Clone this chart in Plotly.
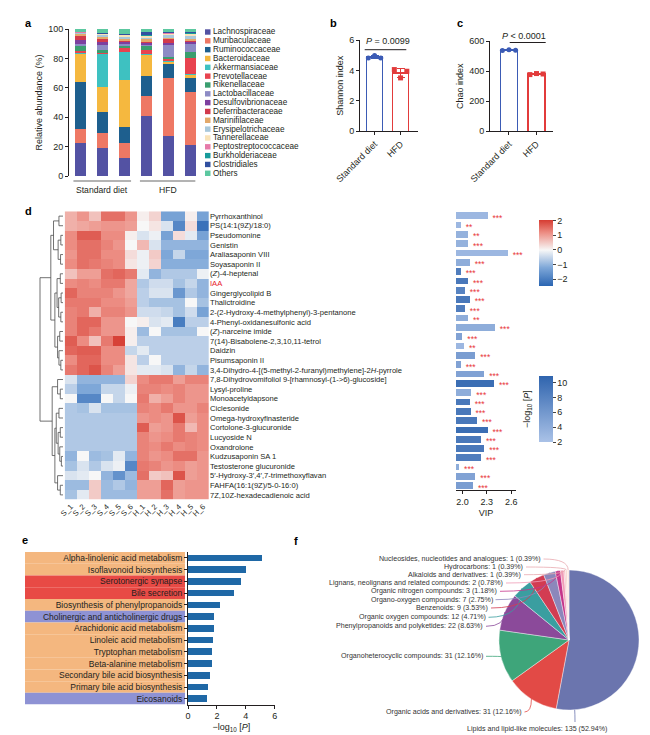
import plotly.graph_objects as go
import math

W, H = 650, 735
def PX(x): return x / W
def PY(y): return 1 - y / H
FONT = "Liberation Sans, Arial, Helvetica, sans-serif"
TXT = "#231f20"

# ---------------- panel a data ----------------
a_samples = ["S1", "S2", "S3", "H1", "H2", "H3"]
a_groups = ["Standard diet", "HFD"]
families = ["Lachnospiraceae", "Muribaculaceae", "Ruminococcaceae", "Bacteroidaceae",
            "Akkermansiaceae", "Prevotellaceae", "Rikenellaceae", "Lactobacillaceae",
            "Desulfovibrionaceae", "Deferribacteraceae", "Marinifilaceae", "Erysipelotrichaceae",
            "Tannerellaceae", "Peptostreptococcaceae", "Burkholderiaceae", "Clostridiales", "Others"]
abundance = [
    [22.6, 19.2, 12.0, 40.6, 27.5, 21.0],
    [9.7, 10.1, 10.6, 13.6, 39.1, 35.9],
    [31.6, 14.3, 10.6, 13.5, 10.1, 9.7],
    [18.9, 16.7, 32.3, 14.7, 1.2, 2.2],
    [1.5, 23.2, 18.7, 0.3, 0.3, 0.3],
    [0.5, 0.5, 3.5, 3.0, 2.0, 11.3],
    [4.0, 2.0, 1.0, 3.0, 1.0, 3.8],
    [1.0, 3.0, 1.3, 1.0, 8.0, 6.0],
    [3.0, 2.5, 1.5, 1.3, 1.0, 1.2],
    [3.0, 2.0, 1.0, 0.5, 3.0, 1.0],
    [1.0, 1.0, 1.0, 2.0, 1.0, 1.0],
    [0.5, 1.5, 1.5, 1.0, 2.0, 2.5],
    [0.5, 0.8, 1.0, 1.0, 0.8, 1.0],
    [0.2, 0.2, 0.3, 0.3, 0.3, 0.3],
    [0.1, 0.2, 0.2, 0.2, 0.3, 0.3],
    [0.2, 0.3, 0.3, 1.8, 0.4, 0.8],
    [1.7, 2.5, 3.2, 2.2, 2.0, 1.7],
]
fam_colors = ["#5352a3", "#ee7864", "#1e5f8e", "#f5b83f", "#3ec1c1", "#e8434f", "#3a9e6f",
              "#8d8bc5", "#7d3f9f", "#d23a4c", "#e3a96a", "#a9c8db", "#f9e3b8", "#e67aa9",
              "#179b9b", "#3150a0", "#5cc8a0"]

# ---------------- panel b / c data ----------------
bc_groups = ["Standard diet", "HFD"]
shannon_sd = [4.84, 5.00, 4.84]
shannon_hfd = [4.07, 3.52, 3.96]
chao_sd = [538, 543, 540]
chao_hfd = [378, 385, 382]

# ---------------- panel d data ----------------
hm_columns = ["S_1", "S_2", "S_3", "S_4", "S_5", "S_6", "H_1", "H_2", "H_3", "H_4", "H_5", "H_6"]
metabolites = ["Pyrrhoxanthinol", "PS(14:1(9Z)/18:0)", "Pseudomonine", "Genistin", "Araliasaponin VIII",
               "Soyasaponin II", "(<i>Z</i>)-4-heptenal", "IAA", "Gingerglycolipid B", "Thalictroidine",
               "2-(2-Hydroxy-4-methylphenyl)-3-pentanone", "4-Phenyl-oxidanesulfonic acid",
               "(<i>Z</i>)-narceine imide", "7(14)-Bisabolene-2,3,10,11-tetrol", "Daidzin", "Pisumsaponin II",
               "3,4-Dihydro-4-[(5-methyl-2-furanyl)methylene]-2<i>H</i>-pyrrole",
               "7,8-Dihydrovomifoliol 9-[rhamnosyl-(1->6)-glucoside]", "Lysyl-proline", "Monoacetyldapsone",
               "Ciclesonide", "Omega-hydroxyfinasteride", "Cortolone-3-glucuronide", "Lucyoside N",
               "Oxandrolone", "Kudzusaponin SA 1", "Testosterone glucuronide",
               "5\u2032-Hydroxy-3\u2032,4\u2032,7-trimethoxyflavan", "FAHFA(16:1(9Z)/5-0-16:0)",
               "7Z,10Z-hexadecadienoic acid"]
highlight = "IAA"
zscore = [
    [0.8, 1.1, 0.6, 1.5, 1.5, 1.1, 0.1, 0.4, -1.3, -1.3, 0.1, -1.3],
    [0.8, 0.9, 1.0, 1.1, 1.1, 1.0, 0.0, 0.2, -0.3, -1.8, 0.3, -2.2],
    [1.2, 1.7, 1.7, 1.2, 1.2, 0.1, -0.3, -0.1, -1.3, 0.3, -0.2, -1.3],
    [1.2, 1.5, 1.5, 1.3, 1.1, 0.0, 0.7, -0.3, -1.0, -1.0, -1.0, -1.0],
    [1.1, 1.5, 1.5, 1.2, 1.2, 0.3, -0.1, 0.5, -1.2, -0.5, -1.2, -1.2],
    [1.2, 1.5, 1.4, 1.3, 1.2, 0.2, -0.1, 0.4, -1.1, -1.1, -1.1, -1.1],
    [0.6, 1.0, 1.0, 1.5, 1.6, 1.4, -0.2, -1.0, -0.7, -0.7, -0.7, -0.1],
    [1.2, 1.3, 1.2, 1.4, 1.4, 0.9, -0.7, -0.4, -0.4, -0.8, -0.5, -1.0],
    [1.6, 1.3, 1.3, 1.3, 1.1, 0.9, -0.6, -0.3, -0.3, -1.5, -0.7, -1.0],
    [1.4, 1.4, 1.4, 1.2, 1.2, 1.0, -0.6, -0.8, -0.8, -0.8, 0.0, -0.8],
    [1.3, 1.4, 0.8, 1.3, 1.3, 1.1, -0.4, -0.4, -0.5, -0.8, -0.4, -1.3],
    [1.3, 1.6, 1.6, 1.1, 1.1, 0.0, 0.1, -0.3, -0.2, -2.0, -0.6, -0.6],
    [1.3, 1.6, 1.4, 1.1, 1.1, 0.1, -0.9, 0.0, -0.8, -0.8, -0.8, 0.0],
    [1.7, 1.2, 0.6, 1.4, 2.0, 0.1, -0.6, -0.6, -0.6, -0.6, -0.6, -0.6],
    [1.6, 1.7, 1.7, 1.2, 1.2, -0.5, -0.2, -0.6, -0.6, -0.6, -0.6, -0.6],
    [1.2, 1.6, 1.6, 1.2, 1.2, 0.2, -0.6, 0.0, -0.6, -0.6, -0.6, -0.6],
    [1.4, 1.6, 1.8, 1.3, 1.0, 0.2, -0.2, -0.2, -0.3, -1.0, -0.5, -1.0],
    [-0.3, -1.0, -1.0, -1.0, -1.0, 0.4, 1.2, 1.4, 1.4, 1.0, 1.3, 1.3],
    [-0.6, -1.2, -1.2, -0.5, -0.5, -0.1, 1.3, 1.3, 1.2, 1.3, 1.1, 1.1],
    [0.0, -1.8, -1.8, 0.0, -0.5, 0.0, 1.4, 0.8, 1.0, 1.3, 1.1, 1.1],
    [-0.7, -0.8, -0.3, -0.8, -0.8, -0.8, 1.3, 1.2, 1.4, 1.1, 1.1, 1.3],
    [-0.7, -0.7, -0.7, -0.7, -0.7, -0.7, 1.1, 1.2, 1.1, 1.8, 1.0, 1.2],
    [-0.7, -0.7, -0.7, -0.7, -0.7, -0.7, 1.7, 1.0, 1.1, 1.4, 0.7, 1.2],
    [-0.7, -0.7, -0.7, -0.7, -0.7, -0.7, 1.3, 1.1, 1.2, 1.4, 1.3, 1.2],
    [-0.7, -0.7, -0.7, -0.7, -0.7, -0.7, 1.3, 1.2, 1.4, 1.2, 1.3, 1.2],
    [-1.0, 0.0, -0.9, -0.8, -0.2, -1.0, 1.3, 1.1, 1.2, 1.5, 1.5, 1.1],
    [-0.8, -0.3, -0.7, -0.3, -0.1, -1.8, 1.4, 1.3, 1.1, 1.2, 1.0, 1.1],
    [-0.3, -0.2, 0.0, -1.0, -1.6, -0.9, 1.5, 0.5, 0.6, 1.8, 1.0, 1.1],
    [-0.9, -0.9, 0.5, -0.9, -0.7, -1.0, 1.0, 1.0, 1.6, 1.0, 1.1, 1.1],
    [-0.8, -0.2, 0.5, -0.9, -0.9, -0.9, 1.0, 1.0, 1.5, 1.0, 1.1, 1.1],
]
# dendrogram: (merge height, [children]); leaves are row indices
dendro_tree = (8.5, [
    (4.5, [
        (3.5, [(1.5, [0, 1]), (1.8, [(0.8, [2, 3]), (0.9, [4, 5])])]),
        (3.0, [(2.2, [(1.0, [6, 7]), (1.6, [(0.7, [8, 9]), (0.8, [10, 11])])]),
               (2.0, [(1.2, [12, 13]), (1.5, [14, (0.8, [15, 16])])])]),
    ]),
    (4.0, [
        (2.0, [17, (1.0, [18, 19])]),
        (3.0, [(2.5, [(1.5, [20, 21]), (1.8, [(1.0, [22, 23]), (1.2, [24, (0.6, [25, 26])])])]),
               (2.0, [27, (1.0, [28, 29])])]),
    ]),
])
vip = [2.31, 1.98, 2.07, 2.07, 2.56, 2.09, 1.98, 2.07, 2.03, 2.09, 2.03, 2.07, 2.40, 2.00, 2.02,
       2.16, 1.98, 2.27, 2.39, 2.11, 2.09, 2.10, 2.18, 2.31, 2.23, 2.27, 2.23, 1.96, 2.16, 2.13]
neglog_p = [3.0, 3.0, 3.5, 3.5, 3.0, 4.0, 8.5, 9.0, 8.0, 9.0, 8.5, 4.0, 4.0, 5.0, 3.0,
            5.5, 5.0, 5.0, 10.0, 4.0, 9.0, 9.0, 9.0, 10.0, 9.0, 9.0, 8.5, 4.0, 5.0, 5.5]
signif = ["***", "**", "**", "***", "***", "***", "***", "***", "***", "***", "***", "**", "***",
          "***", "**", "***", "***", "***", "***", "***", "***", "***", "***", "***", "***", "***",
          "***", "***", "***", "***"]

# ---------------- panel e data ----------------
pathways = ["Alpha-linolenic acid metabolism", "Isoflavonoid biosynthesis", "Serotonergic synapse",
            "Bile secretion", "Biosynthesis of phenylpropanoids", "Cholinergic and anticholinergic drugs",
            "Arachidonic acid metabolism", "Linoleic acid metabolism", "Tryptophan metabolism",
            "Beta-alanine metabolism", "Secondary bile acid biosynthesis", "Primary bile acid biosynthesis",
            "Eicosanoids"]
pathway_p = [5.1, 4.0, 3.7, 3.2, 2.2, 1.8, 1.8, 1.75, 1.68, 1.63, 1.53, 1.35, 1.28]
pathway_class = ["Metabolism", "Metabolism", "Organismal Systems", "Organismal Systems", "Metabolism",
                 "Drug", "Metabolism", "Metabolism", "Metabolism", "Metabolism", "Metabolism",
                 "Metabolism", "Drug"]
class_colors = {"Metabolism": "#f4b77f", "Organismal Systems": "#e84a45", "Drug": "#8e92d4"}

# ---------------- panel f data ----------------
chem_classes = ["Lipids and lipid-like molecules", "Organic acids and derivatives",
                "Organoheterocyclic compounds", "Phenylpropanoids and polyketides",
                "Organic oxygen compounds", "Benzenoids", "Organo-oxygen compounds",
                "Organic nitrogen compounds", "Lignans, neolignans and related compounds",
                "Alkaloids and derivatives", "Hydrocarbons", "Nucleosides, nucleotides and analogues"]
chem_counts = [135, 31, 31, 22, 12, 9, 7, 3, 2, 1, 1, 1]
chem_colors = ["#6b75ae", "#e24a46", "#3ea57a", "#8b4a9a", "#3a9ea0", "#d23c52", "#8c87bb",
               "#c5358a", "#f09cb6", "#f5bfc5", "#f8d3cc", "#fbe3dc"]

fig = go.Figure()
ann = []
shapes = []

def axfont(s=9):
    return dict(family=FONT, size=s, color=TXT)

# ===== panel a =====
for i, fam in enumerate(families):
    fig.add_trace(go.Bar(x=list(range(len(a_samples))), y=abundance[i], name=fam,
                         marker=dict(color=fam_colors[i], line=dict(width=0)), width=0.5,
                         xaxis="x", yaxis="y", hoverinfo="skip"))
leg_y0, leg_dy = 24.0, 8.83
for i, fam in enumerate(families):
    yc = leg_y0 + i * leg_dy
    shapes.append(dict(type="rect", xref="paper", yref="paper", x0=PX(197), x1=PX(202.5),
                       y0=PY(yc + 2.7), y1=PY(yc - 2.7), fillcolor=fam_colors[i], line=dict(width=0)))
    ann.append(dict(x=PX(204), y=PY(yc), xref="paper", yref="paper", xanchor="left", yanchor="middle",
                    text=fam, showarrow=False, font=axfont(8.2), borderpad=0))
for g, (x0, x1) in zip(a_groups, [(-0.3, 2.3), (2.7, 5.2)]):
    shapes.append(dict(type="line", xref="x", yref="paper", x0=x0, x1=x1, y0=PY(173), y1=PY(173),
                       line=dict(color="#9a9a9a", width=1.6)))
    ann.append(dict(x=(x0 + x1) / 2, y=PY(182), xref="x", yref="paper", text=g, showarrow=False,
                    font=axfont(8.6), xanchor="center", yanchor="middle"))

# ===== panel b / c =====
offsets = [-0.24, 0.0, 0.24]
def mean(v): return sum(v) / len(v)
def sd(v):
    m = mean(v)
    return (sum((a - m) ** 2 for a in v) / (len(v) - 1)) ** 0.5

for xa, ya, sets in [("x2", "y2", [shannon_sd, shannon_hfd]), ("x3", "y3", [chao_sd, chao_hfd])]:
    for gi, (vals, col, sym) in enumerate(zip(sets, ["#3b5bb5", "#e23b3b"], ["circle", "square"])):
        fig.add_trace(go.Bar(x=[gi], y=[mean(vals)], width=0.62, xaxis=xa, yaxis=ya,
                             marker=dict(color="white", line=dict(color=col, width=1.6)),
                             error_y=dict(type="data", array=[sd(vals)], color=col, thickness=1.2, width=4),
                             hoverinfo="skip"))
        fig.add_trace(go.Scatter(x=[gi + o for o in offsets], y=vals, mode="markers", xaxis=xa, yaxis=ya,
                                 marker=dict(color=col, size=5, symbol=sym), hoverinfo="skip",
                                 cliponaxis=False))
shapes.append(dict(type="line", xref="paper", yref="paper", x0=PX(356.7), x1=PX(398.3),
                   y0=PY(41.7), y1=PY(41.7), line=dict(color=TXT, width=1)))
ann.append(dict(x=PX(380), y=PY(32.5), xref="paper", yref="paper", text="<i>P</i> = 0.0099",
                showarrow=False, font=axfont(9), xanchor="center", yanchor="middle"))
shapes.append(dict(type="line", xref="paper", yref="paper", x0=PX(501.7), x1=PX(537.7),
                   y0=PY(34.5), y1=PY(34.5), line=dict(color=TXT, width=1)))
ann.append(dict(x=PX(516), y=PY(27.5), xref="paper", yref="paper", text="<i>P</i> < 0.0001",
                showarrow=False, font=axfont(9), xanchor="center", yanchor="middle"))

# ===== panel d =====
n_rows = len(metabolites)
hm_scale = [[0.0, "#2a65b2"], [0.278, "#7ea7d8"], [0.544, "#f7f7f7"], [0.811, "#ec8c82"], [1.0, "#d63c32"]]
fig.add_trace(go.Heatmap(z=zscore, x=list(range(len(hm_columns))), y=list(range(n_rows)),
                         colorscale=hm_scale, zmin=-2.45, zmax=2.05, xaxis="x4", yaxis="y4",
                         hoverinfo="skip",
                         colorbar=dict(x=PX(531), xanchor="left", y=PY(244.7), yanchor="middle",
                                       len=66, lenmode="pixels", thickness=14, thicknessmode="pixels",
                                       tickvals=[-2, -1, 0, 1, 2], ticks="outside", ticklen=3,
                                       tickfont=axfont(9), outlinewidth=0, xpad=0, ypad=0)))
row_text = [f'<span style="color:#e8202a">{m}</span>' if m == highlight else m for m in metabolites]

dx, dy = [], []
def draw(node):
    if isinstance(node, int):
        return float(node), 0.0
    h, kids = node
    pos = []
    for k in kids:
        yk, hk = draw(k)
        dx.extend([hk, h, None]); dy.extend([yk, yk, None])
        pos.append(yk)
    dx.extend([h, h, None]); dy.extend([min(pos), max(pos), None])
    return (min(pos) + max(pos)) / 2, h
draw(dendro_tree)
fig.add_trace(go.Scatter(x=dx, y=dy, mode="lines", line=dict(color="#4d4d4d", width=0.8),
                         xaxis="x7", yaxis="y7", hoverinfo="skip"))

vip_scale = [[0, "#aac2e7"], [1, "#2f64ae"]]
fig.add_trace(go.Bar(x=vip, y=list(range(n_rows)), orientation="h", width=0.72, xaxis="x5", yaxis="y5",
                     marker=dict(color=neglog_p, colorscale=vip_scale, cmin=2, cmax=10.9, line=dict(width=0),
                                 colorbar=dict(x=PX(531), xanchor="left", y=PY(401), yanchor="middle",
                                               len=66, lenmode="pixels", thickness=14,
                                               thicknessmode="pixels", tickvals=[2, 4, 6, 8, 10],
                                               ticks="outside", ticklen=3, tickfont=axfont(9),
                                               outlinewidth=0, xpad=0, ypad=0)),
                     hoverinfo="skip"))
fig.add_trace(go.Scatter(x=[v + 0.06 for v in vip], y=[i + 0.3 for i in range(n_rows)], mode="text",
                         text=signif, textposition="middle right", xaxis="x5", yaxis="y5",
                         textfont=dict(family=FONT, size=8.5, color="#e8373a"), cliponaxis=False,
                         hoverinfo="skip"))
ann.append(dict(x=PX(519), y=PY(401), xref="paper", yref="paper", text="\u2212log<sub>10</sub> [<i>P</i>]",
                textangle=-90, showarrow=False, font=axfont(9), xanchor="center", yanchor="middle"))

# ===== panel e =====
for i, c in enumerate(pathway_class):
    shapes.append(dict(type="rect", xref="paper", yref="y6", x0=PX(17), x1=PX(177), y0=i - 0.5, y1=i + 0.5,
                       fillcolor=class_colors[c], line=dict(width=0), layer="below"))
fig.add_trace(go.Bar(x=pathway_p, y=list(range(len(pathways))), orientation="h", width=0.57,
                     marker=dict(color="#1f68a6", line=dict(width=0)), xaxis="x6", yaxis="y6",
                     hoverinfo="skip"))

# ===== panel f =====
cx, cy, r = 561.0, 632.0, 70.0
fig.add_trace(go.Pie(values=chem_counts, labels=chem_classes, sort=False, direction="clockwise",
                     rotation=0, textinfo="none", hoverinfo="skip",
                     marker=dict(colors=chem_colors, line=dict(color="white", width=0.4)),
                     domain=dict(x=[PX(cx - r), PX(cx + r)], y=[PY(cy + r), PY(cy - r)])))
label_pos = [(600, 721), (514.5, 704), (476, 648.3), (476, 618.3), (478.5, 609.3), (481, 600),
             (485.5, 591.7), (490, 583.3), (496, 575), (514, 566.7), (516, 559), (533.5, 551)]
leader_start = [(567, 714)] + [(x + 2, y) for x, y in label_pos[1:]]
leader_frac = [0.92] + [0.5] * 11
total = sum(chem_counts)
cum = 0
for i, (cls, cnt) in enumerate(zip(chem_classes, chem_counts)):
    frac_mid = (cum + leader_frac[i] * cnt) / total
    cum += cnt
    th = 2 * math.pi * frac_mid
    tx, ty = cx + r * math.sin(th), cy - r * math.cos(th)
    lx, ly = label_pos[i]
    ann.append(dict(x=PX(lx), y=PY(ly), xref="paper", yref="paper", xanchor="right", yanchor="middle",
                    text=f"{cls}: {cnt} ({100 * cnt / total:.2f}%)", showarrow=False, borderpad=0,
                    font=dict(family=FONT, size=7.1, color="#333333")))
    sx, sy = leader_start[i]
    qx, qy = (tx, sy) if i > 0 else (sx, ty + 4)
    shapes.append(dict(type="path", xref="paper", yref="paper",
                       path=f"M {PX(sx)},{PY(sy)} Q {PX(qx)},{PY(qy)} {PX(tx)},{PY(ty)}",
                       line=dict(color=chem_colors[i] if i < 9 else "#e9a9b0", width=0.8)))

# ===== panel letters =====
for t, x, y in [("a", 20, 15), ("b", 325, 15), ("c", 452, 15), ("d", 20, 203), ("e", 17, 532), ("f", 288, 533)]:
    ann.append(dict(x=PX(x), y=PY(y), xref="paper", yref="paper", text=f"<b>{t}</b>", showarrow=False,
                    font=dict(family=FONT, size=11, color="black"), xanchor="center", yanchor="middle"))

base_ax = dict(showgrid=False, zeroline=False, automargin=False, color=TXT, linecolor=TXT, linewidth=1,
               tickcolor=TXT, tickfont=axfont(9))
def ax(**kw):
    d = dict(base_ax); d.update(kw); return d

fig.update_layout(
    width=W, height=H, margin=dict(l=0, r=0, t=0, b=0), template="none",
    paper_bgcolor="white", plot_bgcolor="rgba(0,0,0,0)", showlegend=False, barmode="stack",
    font=dict(family=FONT, color=TXT),
    # a
    xaxis=ax(domain=[PX(61), PX(194)], range=[-0.5, 5.5], showticklabels=False, showline=False, ticks=""),
    yaxis=ax(domain=[PY(168), PY(21)], range=[0, 100], tickvals=[0, 20, 40, 60, 80, 100], showline=True,
             ticks="outside", ticklen=3, title=dict(text="Relative abundance (%)", font=axfont(9), standoff=4)),
    # b
    xaxis2=ax(domain=[PX(352), PX(410)], range=[-0.56, 1.67], tickvals=[0, 1], ticktext=bc_groups,
              tickangle=-45, showline=True, ticks="outside", ticklen=3, anchor="y2"),
    yaxis2=ax(domain=[PY(123.3), PY(32.3)], range=[0, 6], dtick=2, showline=True, ticks="outside", ticklen=3,
              anchor="x2", title=dict(text="Shannon index", font=axfont(9), standoff=4)),
    # c
    xaxis3=ax(domain=[PX(482), PX(545)], range=[-0.69, 1.6], tickvals=[0, 1], ticktext=bc_groups,
              tickangle=-45, showline=True, ticks="outside", ticklen=3, anchor="y3"),
    yaxis3=ax(domain=[PY(123.3), PY(33.3)], range=[0, 600], dtick=200, showline=True, ticks="outside",
              ticklen=3, anchor="x3", title=dict(text="Chao index", font=axfont(9), standoff=4)),
    # d heatmap
    xaxis4=ax(domain=[PX(56.7), PX(201)], range=[-0.5, 11.5], tickvals=list(range(12)), ticktext=hm_columns,
              tickangle=-45, ticks="", showline=False, anchor="y4", tickfont=axfont(7.6)),
    yaxis4=ax(domain=[PY(491.7), PY(203.3)], range=[n_rows - 0.5, -0.5], tickvals=list(range(n_rows)),
              ticktext=row_text, side="right", ticks="", showline=False, anchor="x4", tickfont=axfont(7.6)),
    # VIP
    xaxis5=ax(domain=[PX(448), PX(508)], range=[1.92, 2.66], tickvals=[2.0, 2.3, 2.6], tickformat=".1f",
              showline=True, ticks="outside", ticklen=3, anchor="y5",
              title=dict(text="VIP", font=axfont(9), standoff=3)),
    yaxis5=ax(domain=[PY(482.4), PY(203)], range=[n_rows - 0.5, -0.5], visible=False, anchor="x5"),
    # e
    xaxis6=ax(domain=[PX(180), PX(266.7)], range=[0, 6], tickvals=[0, 2, 4, 6], showline=True,
              ticks="outside", ticklen=3, anchor="y6",
              title=dict(text="\u2212log<sub>10</sub> [<i>P</i>]", font=axfont(9), standoff=3)),
    yaxis6=ax(domain=[PY(696.6), PY(544.1)], range=[len(pathways) - 0.5, -0.5],
              tickvals=list(range(len(pathways))), ticktext=pathways, showline=True, ticks="outside",
              ticklen=3, anchor="x6", tickfont=axfont(8.5)),
    # dendrogram
    xaxis7=ax(domain=[PX(30), PX(56)], range=[9.24, -0.37], visible=False, anchor="y7"),
    yaxis7=ax(domain=[PY(491.7), PY(203.3)], range=[n_rows - 0.5, -0.5], visible=False, anchor="x7"),
    annotations=ann, shapes=shapes,
)
fig.write_html("out.html")
